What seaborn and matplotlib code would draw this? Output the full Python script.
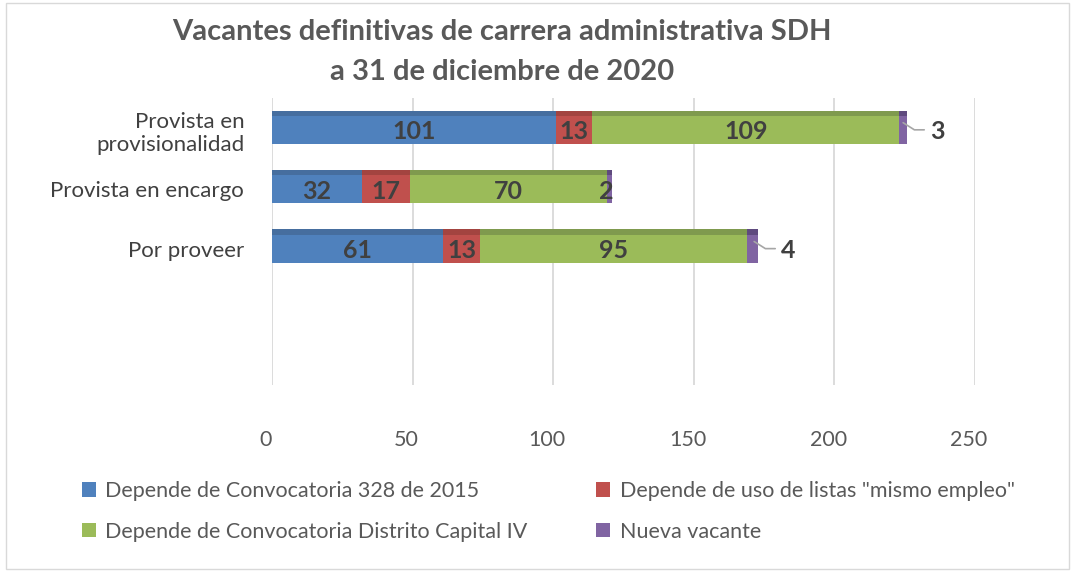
import numpy as np
import pandas as pd
import matplotlib
matplotlib.use("Agg")
import matplotlib.pyplot as plt
import matplotlib.transforms as mtransforms
import seaborn as sns
from matplotlib.patches import Patch, Rectangle

categories = ["Provista en\nprovisionalidad", "Provista en encargo", "Por proveer"]
convocatoria_328 = [101, 32, 61]
listas_mismo_empleo = [13, 17, 13]
distrito_capital_iv = [109, 70, 95]
nueva_vacante = [3, 2, 4]
series_names = ["Depende de Convocatoria 328 de 2015",
                'Depende de uso de listas "mismo empleo"',
                "Depende de Convocatoria Distrito Capital IV",
                "Nueva vacante"]
colors = ["#4F81BD", "#C0504D", "#9BBB59", "#8064A2"]
top_colors = ["#466E9F", "#A34440", "#7F9A4E", "#5F4A7E"]
xticks = [0, 50, 100, 150, 200, 250]

sns.set_theme(style="white")
plt.rcParams["font.family"] = ["Lato", "DejaVu Sans"]

series = [convocatoria_328, listas_mismo_empleo, distrito_capital_iv, nueva_vacante]
cum = np.cumsum(np.array(series), axis=0)

fig = plt.figure(figsize=(10.73, 5.75), dpi=100)
ax = fig.add_axes([0.2535, 0.33, 0.655, 0.50])

bar_w = 0.47
# draw stacked bars from the back (totals) to the front
for i in range(3, -1, -1):
    df = pd.DataFrame({"cat": categories, "val": cum[i]})
    sns.barplot(data=df, y="cat", x="val", orient="h", color=colors[i],
                saturation=1, width=bar_w, ax=ax, zorder=3, edgecolor="none")

# darker top faces (pseudo 3D)
for i in range(4):
    starts = cum[i] - np.array(series[i])
    ax.barh(np.arange(3) - bar_w / 2 - 0.045, series[i], left=starts, height=0.09,
            color=top_colors[i], zorder=3, linewidth=0)

ax.set_xlim(0, 250)
ax.set_ylim(4.3, -0.54)
ax.set_xticks(xticks)
ax.set_xticklabels([str(t) for t in xticks], fontsize=15.5, color="#595959")
ax.tick_params(axis="x", length=0, pad=32)
ax.tick_params(axis="y", length=0, pad=20)
shift = mtransforms.ScaledTranslation(-6 / 100, 0, fig.dpi_scale_trans)
for lbl in ax.get_xticklabels():
    lbl.set_transform(lbl.get_transform() + shift)
for lbl in ax.get_yticklabels():
    lbl.set_fontsize(16)
    lbl.set_color("#404040")
    lbl.set_horizontalalignment("right")
ax.set_xlabel("")
ax.set_ylabel("")
ax.grid(axis="x", color="#D9D9D9", linewidth=1.3, zorder=0)
for s in ax.spines.values():
    s.set_visible(False)

# data labels
lab_kw = dict(fontsize=18, fontweight="bold", color="#404040", zorder=5)
for j in range(3):
    starts = [0] + list(cum[:-1, j])
    for i in range(3):
        v = series[i][j]
        ax.text(starts[i] + v / 2, j + 0.03, str(v), ha="center", va="center", **lab_kw)
    v = nueva_vacante[j]
    end = cum[3, j]
    if v >= 3:
        ax.plot([end - 1.5, end + 2.5, end + 6], [j - 0.12, j + 0.0, j + 0.0],
                color="#A6A6A6", lw=1.2, zorder=5)
        ax.text(end + 8, j + 0.03, str(v), ha="left", va="center", **lab_kw)
    else:
        ax.text(end - 2, j + 0.03, str(v), ha="center", va="center", **lab_kw)

fig.text(0.468, 0.945, "Vacantes definitivas de carrera administrativa SDH",
         ha="center", va="center", fontsize=21, fontweight="bold", color="#595959")
fig.text(0.468, 0.875, "a 31 de diciembre de 2020",
         ha="center", va="center", fontsize=21, fontweight="bold", color="#595959")

order = [0, 2, 1, 3]
handles = [Patch(facecolor=colors[k], edgecolor="none") for k in order]
labels = [series_names[k] for k in order]
fig.legend(handles, labels, ncol=2, loc="upper left", bbox_to_anchor=(0.058, 0.197),
           frameon=False, fontsize=15.5, labelcolor="#595959", handlelength=0.65,
           handleheight=0.65, handletextpad=0.45, columnspacing=3.2, labelspacing=0.95)

fig.patches.append(Rectangle((0.006, 0.01), 0.99, 0.985, transform=fig.transFigure,
                             fill=False, edgecolor="#D9D9D9", linewidth=1))

fig.savefig("out.png", dpi=100)
